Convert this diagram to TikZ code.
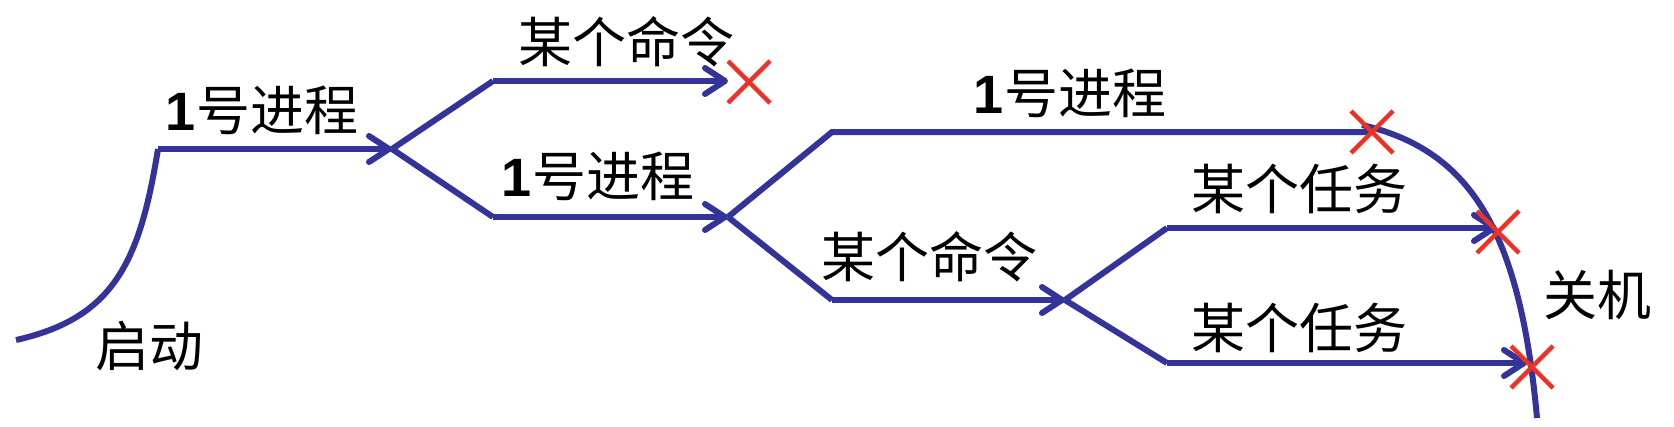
\documentclass[tikz,border=0pt]{standalone}
\usepackage{fontspec}
\setmainfont{Liberation Sans}
\newfontfamily\cjk{Noto Sans CJK SC}
\usetikzlibrary{arrows.meta,calc}
\definecolor{lineblue}{RGB}{51,51,153}
\definecolor{xred}{RGB}{236,50,36}
\tikzset{
  flow/.style={draw=lineblue, line width=6pt, line join=miter},
  arr/.style={flow, -{Straight Barb[length=20pt,width=26pt,round]}},
  lbl/.style={inner sep=0pt, font=\fontsize{54}{54}\selectfont\cjk},
  xmark/.style={draw=xred, line width=4.5pt},
}
\newcommand{\numone}{{\fontsize{54}{54}\selectfont\rmfamily\bfseries 1}}
\newcommand{\crossat}[1]{\draw[xmark] ($(#1)+(-21,-21)$) -- ($(#1)+(21,21)$); \draw[xmark] ($(#1)+(-21,21)$) -- ($(#1)+(21,-21)$);}
\begin{document}
\begin{tikzpicture}[x=1pt, y=-1pt]
\useasboundingbox (0,0) rectangle (1674,426);
% coordinates
\coordinate (s0) at (16,340);
\coordinate (a0) at (158,149);
\coordinate (b1) at (392,149);
\coordinate (c1) at (493,81);
\coordinate (t1) at (728,81);
\coordinate (c2) at (493,217);
\coordinate (b2) at (728,217);
\coordinate (d1) at (832,132);
\coordinate (t2) at (1372,132);
\coordinate (d2) at (832,300);
\coordinate (b3) at (1065,300);
\coordinate (e1) at (1167,228);
\coordinate (t3) at (1497,228);
\coordinate (e2) at (1167,363);
\coordinate (t4) at (1527,363);
\coordinate (k0) at (1362,125);
\coordinate (k1) at (1537,418);
\coordinate (x1) at (749,82);
\coordinate (x2) at (1372,132);
\coordinate (x3) at (1498,232);
\coordinate (x4) at (1532,367);
% connectors
\draw[flow] (s0) .. controls (115,318) and (140,260) .. (a0);
\draw[arr] (a0) -- (b1);
\draw[flow] (b1) -- (c1);
\draw[arr] (c1) -- (t1);
\draw[flow] (b1) -- (c2);
\draw[arr] (c2) -- (b2);
\draw[flow] (b2) -- (d1) -- (t2);
\draw[flow] (b2) -- (d2);
\draw[arr] (d2) -- (b3);
\draw[flow] (b3) -- (e1);
\draw[arr] (e1) -- (t3);
\draw[flow] (b3) -- (e2);
\draw[arr] (e2) -- (t4);
\draw[flow] (k0) .. controls (1470,150) and (1520,230) .. (k1);
% crosses
\crossat{x1}
\crossat{x2}
\crossat{x3}
\crossat{x4}
% labels
\node[lbl] (l0) at (149,346) {启动};
\node[lbl] (l1) at (262,110) {\numone{}号进程};
\node[lbl] (l2) at (626,42) {某个命令};
\node[lbl] (l3) at (598,176) {\numone{}号进程};
\node[lbl] (l4) at (1070,93) {\numone{}号进程};
\node[lbl] (l5) at (929,257) {某个命令};
\node[lbl] (l6) at (1299,189) {某个任务};
\node[lbl] (l7) at (1299,328) {某个任务};
\node[lbl] (l8) at (1597,295) {关机};
\end{tikzpicture}
\end{document}
